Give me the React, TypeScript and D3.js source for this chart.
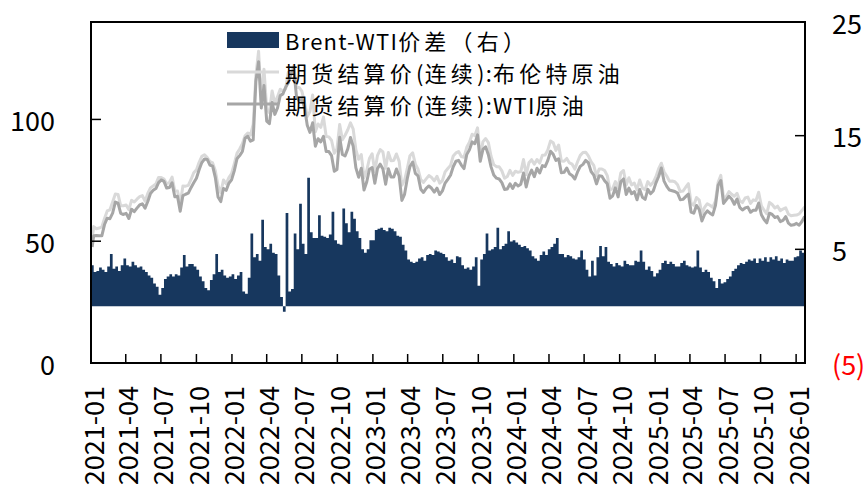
import React from 'react';
import * as d3 from 'd3';

const W = 865;
const H = 487;
const FONT = "'Noto Sans CJK SC', 'Noto Sans', sans-serif";

// weekly (Friday) settlements, first point is the opening day of 2021
const FRIDAYS = d3.timeFriday.range(new Date(2021, 0, 2), new Date(2026, 0, 24));
const PRICE_DATES = [new Date(2021, 0, 4), ...FRIDAYS];

const BRENT_2021 = [51.09,
  55.99, 55.10, 55.41, 55.88, 59.34, 62.43, 62.91, 66.13, 69.36, 69.22, 64.53, 64.57,
  64.86, 62.95, 66.77, 66.11, 67.25, 68.28, 68.71, 66.44, 69.63, 71.89, 72.69, 73.51, 76.18,
  76.17, 75.55, 73.59, 74.10, 76.33, 70.70, 70.59, 65.18, 72.70, 72.61, 72.92, 75.34, 78.09,
  79.28, 82.39, 84.86, 85.53, 84.38, 82.74, 82.17, 78.89, 72.72, 69.88, 75.15, 73.52, 76.14, 77.78];
const BRENT_2022 = [81.75, 86.06, 87.89, 90.03, 93.27, 94.44, 93.54, 97.93, 118.11, 127.98, 107.93, 120.65,
  104.39, 102.78, 111.70, 106.65, 109.34, 112.39, 111.55, 112.55, 119.43, 119.72, 122.01, 113.12, 113.12,
  111.63, 107.02, 101.16, 103.20, 110.01, 94.92, 98.15, 96.72, 100.99, 93.02, 92.84, 91.35, 86.15, 87.96,
  97.92, 91.63, 93.50, 95.77, 98.57, 95.99, 87.62, 83.63, 85.57, 76.10, 79.04, 83.92, 85.91];
const BRENT_2023 = [78.57, 85.28, 87.63, 86.66, 79.94, 86.39, 83.00, 83.16, 85.83, 82.78, 72.97, 74.99, 79.77,
  85.12, 86.31, 81.66, 79.54, 75.30, 74.17, 75.58, 76.95, 76.13, 74.79, 76.61, 73.85, 74.90,
  78.47, 79.87, 81.07, 84.99, 86.24, 86.81, 84.80, 84.48, 88.55, 90.65, 93.93, 93.27, 96.55,
  84.58, 90.89, 92.16, 90.48, 84.89, 81.43, 80.61, 80.58, 78.88, 75.84, 76.55, 79.07, 77.04];
const BRENT_2024 = [78.76, 78.29, 78.56, 83.55, 77.33, 82.19, 83.47, 81.62, 83.55, 82.08, 85.34, 85.43, 87.48,
  91.17, 90.45, 87.29, 89.50, 82.96, 82.79, 83.98, 82.12, 81.62, 79.62, 82.62, 85.24, 86.41,
  86.54, 85.03, 82.63, 81.13, 76.81, 79.66, 79.68, 79.02, 76.93, 71.06, 71.61, 74.49, 71.98,
  78.05, 79.04, 73.06, 76.05, 73.10, 73.87, 71.04, 75.17, 71.84, 71.12, 74.49, 72.94, 74.17];
const BRENT_2025 = [76.51, 79.76, 82.03, 78.50, 76.76, 74.66, 74.74, 74.43, 73.18, 70.36, 70.58, 72.16, 73.63,
  65.58, 64.76, 67.96, 66.87, 61.29, 63.91, 65.41, 64.78, 63.90, 66.47, 74.23, 77.01, 67.77,
  68.30, 70.36, 69.28, 68.44, 69.67, 66.59, 65.85, 67.73, 68.12, 65.50, 66.99, 66.68, 70.13,
  64.53, 62.73, 61.29, 65.94, 65.07, 63.63, 64.39, 62.56, 63.20, 63.75, 61.12, 60.47, 60.64];
const BRENT_2026 = [60.75, 61.20, 62.60, 64.10];

const WTI_2021 = [47.62,
  52.24, 52.36, 52.27, 52.20, 56.85, 59.47, 59.24, 61.50, 66.09, 65.61, 61.42, 60.97,
  61.45, 59.32, 63.13, 62.14, 63.58, 64.90, 65.37, 63.58, 66.32, 69.62, 70.91, 71.64, 74.05,
  75.16, 74.56, 71.81, 72.07, 73.95, 68.28, 68.44, 62.32, 68.74, 69.29, 69.72, 71.97, 73.98,
  75.88, 79.35, 82.28, 83.76, 83.57, 81.27, 80.79, 76.10, 68.15, 66.26, 71.67, 70.86, 73.79, 75.21];
const WTI_2022 = [78.90, 83.82, 85.14, 86.82, 92.31, 93.10, 91.07, 91.59, 115.68, 123.70, 104.70, 113.90,
  99.27, 98.26, 106.95, 102.07, 104.69, 109.77, 110.49, 113.23, 115.07, 118.87, 120.67, 109.56, 107.62,
  108.43, 104.79, 97.59, 94.70, 98.62, 89.01, 92.09, 90.77, 93.06, 86.87, 86.79, 85.11, 78.74, 79.49,
  92.64, 85.61, 85.05, 87.90, 92.61, 88.96, 80.08, 76.28, 79.98, 71.02, 74.29, 79.56, 80.26];
const WTI_2023 = [73.77, 79.86, 81.64, 79.68, 73.39, 79.72, 76.34, 76.32, 79.68, 76.68, 66.74, 69.26, 75.67,
  80.70, 82.52, 77.87, 76.78, 71.34, 70.04, 71.69, 72.67, 71.74, 70.17, 71.78, 69.16, 70.64,
  73.86, 75.42, 77.07, 80.58, 82.82, 83.19, 81.25, 79.83, 85.55, 87.51, 90.77, 90.03, 93.68,
  82.79, 87.69, 88.75, 85.54, 80.51, 77.17, 75.89, 75.54, 74.07, 71.23, 71.43, 73.56, 71.65];
const WTI_2024 = [73.81, 72.68, 73.41, 78.01, 72.28, 76.84, 79.19, 76.49, 79.97, 78.01, 81.04, 80.63, 83.17,
  86.91, 85.66, 83.14, 83.85, 78.11, 78.26, 80.06, 77.72, 76.99, 75.53, 78.45, 80.73, 81.54,
  83.16, 82.21, 78.63, 77.16, 73.52, 76.84, 76.65, 74.83, 73.55, 67.67, 68.65, 71.92, 68.18,
  74.38, 75.56, 69.22, 71.78, 69.49, 70.38, 67.02, 71.24, 68.00, 67.20, 71.29, 69.46, 70.60];
const WTI_2025 = [73.96, 76.57, 80.04, 74.66, 72.53, 71.00, 70.74, 70.40, 69.76, 67.04, 67.18, 68.28, 69.36,
  61.99, 61.50, 64.68, 63.02, 58.29, 61.02, 62.49, 61.53, 60.79, 64.58, 72.98, 74.93, 65.52,
  67.00, 68.45, 67.34, 65.16, 67.33, 63.88, 62.80, 63.66, 64.01, 61.87, 62.69, 62.68, 65.72,
  60.88, 58.90, 57.54, 61.50, 60.98, 59.75, 60.09, 58.06, 58.55, 60.08, 57.44, 56.52, 56.74];
const WTI_2026 = [57.32, 56.60, 58.10, 60.20];

// Brent-WTI spread (right axis), one value per Friday
const SPREAD_2021 = [3.6, 3.0, 3.1, 3.4, 3.2, 3.0, 3.5, 4.6, 3.3, 3.5, 3.1, 3.6,
  4.2, 3.6, 3.5, 3.9, 3.6, 3.4, 3.5, 3.2, 3.0, 2.7, 2.5, 2.0, 1.7,
  1.0, 1.6, 2.4, 2.6, 2.8, 2.6, 2.8, 2.7, 3.4, 4.5, 3.5, 3.7, 3.7,
  3.5, 3.2, 2.6, 2.2, 1.6, 1.4, 2.3, 2.8, 4.6, 3.0, 3.2, 2.7, 2.5, 2.6];
const SPREAD_2022 = [2.8, 2.4, 2.7, 3.0, 1.3, 1.1, 2.5, 6.4, 4.3, 4.6, 4.0, 7.6,
  5.2, 5.0, 5.5, 4.7, 4.6, 2.7, 0.8, -0.5, 8.2, 1.3, 1.5, 6.4, 5.0,
  9.0, 5.5, 4.6, 11.3, 6.5, 6.0, 6.0, 8.0, 6.2, 6.1, 6.0, 6.3, 8.3, 5.8,
  5.5, 5.4, 8.6, 7.3, 6.5, 8.3, 7.7, 6.6, 6.0, 5.0, 4.7, 5.0, 5.8];
const SPREAD_2023 = [5.8, 6.7, 6.8, 6.9, 6.7, 6.6, 6.9, 6.8, 6.6, 6.2, 6.1, 5.4, 4.9,
  4.1, 3.9, 3.8, 3.9, 4.2, 4.3, 4.0, 4.5, 4.6, 4.5, 4.9, 4.8, 4.7,
  4.6, 4.3, 4.0, 4.1, 3.8, 4.4, 4.3, 3.6, 3.3, 3.4, 3.2, 3.5, 4.3,
  1.8, 4.1, 4.6, 6.4, 4.9, 5.0, 5.2, 6.9, 5.0, 5.3, 5.5, 6.6, 5.7];
const SPREAD_2024 = [5.8, 5.6, 5.4, 5.2, 5.3, 5.1, 4.9, 4.4, 4.2, 4.0, 4.5, 4.8, 4.5,
  5.0, 5.2, 5.5, 6.0, 4.6, 4.6, 4.3, 4.5, 4.4, 4.2, 4.1, 4.3, 4.9,
  4.1, 3.2, 2.6, 4.0, 2.7, 4.3, 5.3, 4.4, 5.2, 3.9, 3.7, 3.5, 3.8,
  3.6, 3.5, 4.0, 3.7, 3.6, 3.6, 4.0, 3.9, 4.9, 3.9, 3.2, 3.5, 3.1];
const SPREAD_2025 = [2.6, 2.9, 3.2, 3.8, 4.0, 3.7, 3.9, 3.7, 3.5, 3.5, 3.8, 4.0, 3.6,
  3.5, 3.4, 3.5, 4.9, 3.4, 3.0, 3.2, 3.0, 2.5, 2.2, 1.6, 2.4, 2.0,
  2.1, 2.4, 2.6, 3.1, 3.3, 3.6, 3.8, 3.7, 3.9, 4.1, 4.0, 4.2, 3.8,
  4.2, 4.0, 4.3, 3.9, 4.3, 4.1, 4.4, 4.0, 4.2, 3.8, 4.1, 4.0, 4.0];
const SPREAD_2026 = [4.3, 4.4, 4.9, 4.7];

const BRENT = [...BRENT_2021, ...BRENT_2022, ...BRENT_2023, ...BRENT_2024, ...BRENT_2025, ...BRENT_2026];
const WTI = [...WTI_2021, ...WTI_2022, ...WTI_2023, ...WTI_2024, ...WTI_2025, ...WTI_2026];
const SPREAD = [...SPREAD_2021, ...SPREAD_2022, ...SPREAD_2023, ...SPREAD_2024, ...SPREAD_2025, ...SPREAD_2026];

const LEFT_TICKS = [0, 50, 100];
const RIGHT_TICKS = [-5, 5, 15, 25];

const SERIES_NAMES = ['Brent-WTI价差（右）', '期货结算价(连续):布伦特原油', '期货结算价(连续):WTI原油'];
const COLORS = { spread: '#17375E', brent: '#D9D9D9', wti: '#A6A6A6' };

const isWide = (c: string) => /[\u3000-\u9fff\uff00-\uffef]/.test(c);

// split a label into runs of wide (CJK) and narrow characters
function runs(s: string) {
  const out: { text: string; wide: boolean }[] = [];
  for (const c of s) {
    const w = isWide(c);
    const last = out[out.length - 1];
    if (last && last.wide === w) last.text += c;
    else out.push({ text: c, wide: w });
  }
  return out;
}

export default function App() {
  const svgRef = React.useRef<SVGSVGElement>(null);

  React.useEffect(() => {
    const svg = d3.select(svgRef.current);
    svg.selectAll('*').remove();

    const left = 91, right = 805, top = 22, bottom = 363;
    const axisSize = 27;
    const legendSize = 22;

    const x = d3.scaleTime()
      .domain([new Date(2021, 0, 1), new Date(2026, 0, 24)])
      .range([left, right]);
    const yL = d3.scaleLinear().domain([0, 140]).range([bottom, top]);
    const yR = d3.scaleLinear().domain([-5, 25]).range([bottom, top]);

    // spread bars, one column per week, drawn as a single stepped shape
    const n = Math.min(SPREAD.length, FRIDAYS.length);
    const steps: [Date, number][] = [];
    for (let i = 0; i < n; i++) steps.push([d3.timeDay.offset(FRIDAYS[i], -7), SPREAD[i]]);
    steps.push([FRIDAYS[n - 1], SPREAD[n - 1]]);
    const spreadArea = d3.area<[Date, number]>()
      .x(d => x(d[0]))
      .y0(yR(0))
      .y1(d => yR(d[1]))
      .curve(d3.curveStepAfter);
    svg.append('path')
      .attr('d', spreadArea(steps))
      .attr('fill', COLORS.spread);

    const line = (vals: number[]) => d3.line<number>()
      .x((_, i) => x(PRICE_DATES[i]))
      .y(v => yL(v))(vals.slice(0, PRICE_DATES.length));

    svg.append('path')
      .attr('d', line(BRENT))
      .attr('fill', 'none')
      .attr('stroke', COLORS.brent)
      .attr('stroke-width', 3)
      .attr('stroke-linejoin', 'round');
    svg.append('path')
      .attr('d', line(WTI))
      .attr('fill', 'none')
      .attr('stroke', COLORS.wti)
      .attr('stroke-width', 3)
      .attr('stroke-linejoin', 'round');

    // frame
    svg.append('rect')
      .attr('x', left).attr('y', top)
      .attr('width', right - left).attr('height', bottom - top)
      .attr('fill', 'none')
      .attr('stroke', '#000')
      .attr('stroke-width', 2);

    // left axis
    for (const v of LEFT_TICKS) {
      svg.append('line')
        .attr('x1', left).attr('x2', left + 10)
        .attr('y1', yL(v)).attr('y2', yL(v))
        .attr('stroke', '#000').attr('stroke-width', 1.5);
      svg.append('text')
        .attr('x', 55).attr('y', yL(v))
        .attr('text-anchor', 'end')
        .attr('dominant-baseline', 'central')
        .attr('font-family', FONT)
        .attr('font-size', axisSize)
        .attr('fill', '#000')
        .text(v);
    }

    // right axis
    for (const v of RIGHT_TICKS) {
      svg.append('line')
        .attr('x1', right - 10).attr('x2', right)
        .attr('y1', yR(v)).attr('y2', yR(v))
        .attr('stroke', '#000').attr('stroke-width', 1.5);
      svg.append('text')
        .attr('x', 832).attr('y', yR(v))
        .attr('text-anchor', 'start')
        .attr('dominant-baseline', 'central')
        .attr('font-family', FONT)
        .attr('font-size', axisSize)
        .attr('fill', v < 0 ? '#FF0000' : '#000')
        .text(v < 0 ? `(${Math.abs(v)})` : v);
    }

    // bottom axis
    const ticks = d3.timeMonth.range(new Date(2021, 0, 1), new Date(2026, 0, 2), 3);
    const fmt = d3.timeFormat('%Y-%m');
    for (const t of ticks) {
      const tx = x(t);
      svg.append('line')
        .attr('x1', tx).attr('x2', tx)
        .attr('y1', bottom).attr('y2', bottom - 9)
        .attr('stroke', '#000').attr('stroke-width', 1.5);
      svg.append('text')
        .attr('transform', `translate(${tx + 1},386) rotate(-90)`)
        .attr('text-anchor', 'end')
        .attr('dominant-baseline', 'central')
        .attr('font-family', FONT)
        .attr('font-size', axisSize)
        .attr('fill', '#000')
        .text(fmt(t));
    }

    // legend; CJK runs get extra tracking to imitate the wider face of the original
    const lg = svg.append('g');
    const rowY = [40, 72, 104];
    lg.append('rect')
      .attr('x', 227).attr('y', 32).attr('width', 52).attr('height', 16)
      .attr('fill', COLORS.spread);
    lg.append('line')
      .attr('x1', 227).attr('x2', 279).attr('y1', rowY[1]).attr('y2', rowY[1])
      .attr('stroke', COLORS.brent).attr('stroke-width', 3);
    lg.append('line')
      .attr('x1', 227).attr('x2', 279).attr('y1', rowY[2]).attr('y2', rowY[2])
      .attr('stroke', COLORS.wti).attr('stroke-width', 3);
    SERIES_NAMES.forEach((name, i) => {
      const t = lg.append('text')
        .attr('x', 285).attr('y', rowY[i])
        .attr('dominant-baseline', 'central')
        .attr('font-family', FONT)
        .attr('font-size', legendSize)
        .attr('fill', '#000');
      for (const r of runs(name)) {
        t.append('tspan')
          .attr('letter-spacing', r.wide ? 4.2 : 1.2)
          .text(r.text);
      }
    });
  }, []);

  return (
    <svg
      ref={svgRef}
      width={W}
      height={H}
      style={{ position: 'absolute', left: 0, top: 0, background: '#fff' }}
    />
  );
}
